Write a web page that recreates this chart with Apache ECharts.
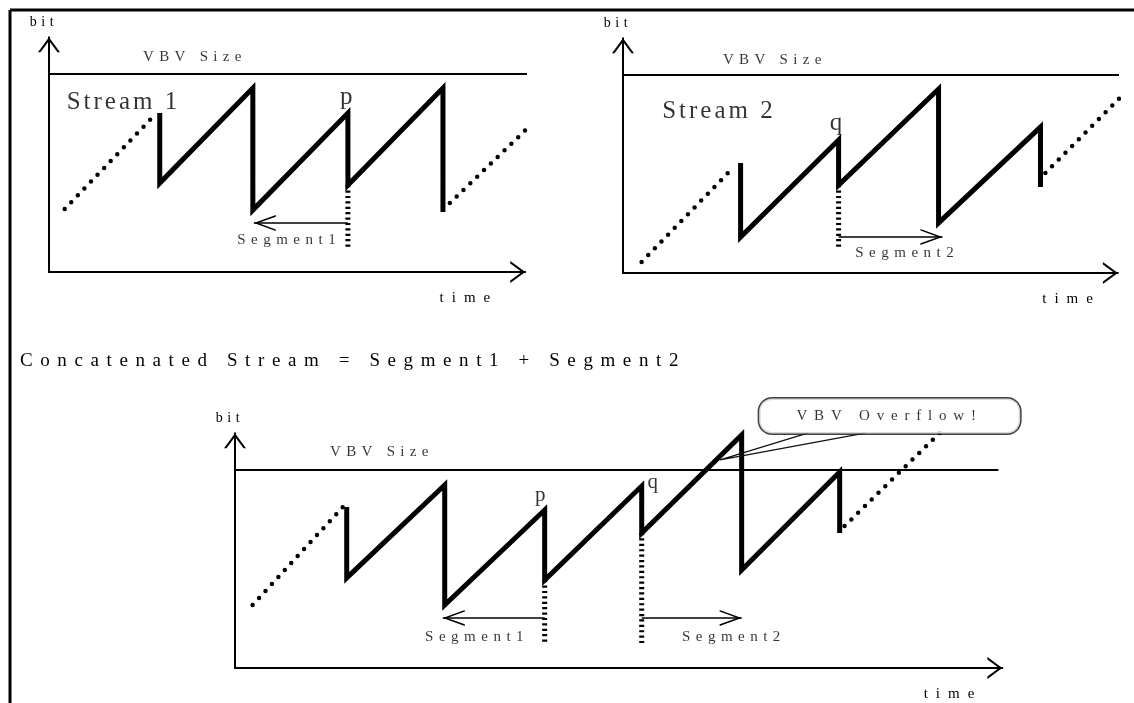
<!DOCTYPE html>
<html>
<head>
<meta charset="utf-8">
<title>VBV overflow after splicing</title>
<script src="https://cdn.jsdelivr.net/npm/echarts@6/dist/echarts.min.js"></script>
<style>
  html, body { margin: 0; padding: 0; background: #fff; }
  #vbvChart { width: 1134px; height: 703px; }
</style>
</head>
<body>
<div id="vbvChart"></div>
<script>
// buffer fullness (bit) against time. VBV size = 100
var vbvSize = 100;

// Stream 1 (top left)
var s1Lead = [[1.6, 31.8], [10.6, 78.3]];
var s1Saw = [[11.3, 80.3], [11.3, 44.9], [20.8, 92.9], [20.8, 31.3], [30.5, 80.3], [30.5, 43.9], [40.2, 92.9], [40.2, 30.3]];
var s1Tail = [[40.9, 34.8], [49.8, 77.3]];
var s1Cut = [[30.5, 43.9], [30.5, 12.6]];
var s1Segment = [[30.5, 24.7], [20.9, 24.7]];

// Stream 2 (top right)
var s2Lead = [[1.9, 5.6], [11.2, 53.0]];
var s2Saw = [[12.0, 55.6], [12.0, 18.2], [22.0, 67.2], [22.0, 44.4], [32.2, 92.9], [32.2, 25.3], [42.6, 73.7], [42.6, 43.4]];
var s2Tail = [[43.1, 50.5], [51.7, 93.4]];
var s2Cut = [[22.0, 44.4], [22.0, 12.6]];
var s2Segment = [[22.0, 18.2], [32.6, 18.2]];

// concatenated stream (bottom)
var cLead = [[1.8, 31.8], [11.0, 81.3]];
var cSaw = [[11.4, 81.3], [11.4, 45.5], [21.4, 92.4], [21.4, 31.8], [31.6, 79.8], [31.6, 44.4], [41.5, 91.9], [41.5, 68.2], [51.7, 117.7], [51.7, 49.5], [61.7, 99.0], [61.7, 68.2]];
var cTail = [[62.2, 71.7], [71.9, 118.7]];
var cCut1 = [[31.6, 44.4], [31.6, 12.6]];
var cCut2 = [[41.5, 68.2], [41.5, 12.6]];
var cSegment1 = [[31.6, 25.3], [21.2, 25.3]];
var cSegment2 = [[41.5, 25.3], [51.7, 25.3]];
var overflowPointer = [[58.5, 118.7], [49.5, 105.1], [64.4, 118.7]];

// time axis length and VBV line end for each panel
var timeMax = [48.6, 50.5, 78.3];
var vbvEnd = [50.3, 52.1, 77.9];

// annotations [time, bit, text]
var s1Notes = [[9.6, 108.6, 'VBV Size'], [19.2, 16.2, 'Segment1']];
var s1Names = [[1.8, 85.4, 'Stream 1'], [29.7, 88.4, 'p']];
var s2Notes = [[10.2, 107.6, 'VBV Size'], [23.7, 10.1, 'Segment2']];
var s2Names = [[4.0, 81.8, 'Stream 2'], [21.1, 75.3, 'q']];
var cNotes = [[9.7, 109.1, 'VBV Size'], [19.4, 15.7, 'Segment1'], [45.6, 15.7, 'Segment2']];
var cNames = [[30.6, 86.9, 'p'], [42.1, 93.9, 'q']];
var overflowText = [[66.8, 127.3, 'VBV Overflow!']];

var titleText = 'Concatenated Stream = Segment1 + Segment2';

// the scanned figure is typeset with very loose letter spacing
var letterGaps = {
    'bit': 4.5, 'time': 8, 'VBV Size': 5.3, 'Stream 1': 3, 'Stream 2': 3,
    'Segment1': 5.5, 'Segment2': 5.5, 'VBV Overflow!': 6.8
};
letterGaps[titleText] = 7.6;
var baseFillText = CanvasRenderingContext2D.prototype.fillText;
CanvasRenderingContext2D.prototype.fillText = function(txt, x, y, w) {
    this.letterSpacing = (letterGaps[txt] || 0) + 'px';
    return w === undefined ? baseFillText.call(this, txt, x, y) : baseFillText.call(this, txt, x, y, w);
};

var SERIF = 'Liberation Serif';
var SX = 9.8, SY = 1.98, BIT_MAX = 118.5;
var origins = [[49, 272], [623, 273], [235, 668]];

// open arrow heads, tip sits in the middle of the symbol box
var axisArrow = 'path://M11,0L11,0.01M0,30L11,15L22,30L19.5,30L11,18.4L2.5,30Z';
var segArrow = 'path://M8,0L8,0.01M0,44L8,22L16,44L14.4,44L8,26.4L1.6,44Z';

var grids = [], xAxes = [], yAxes = [];
var nameGaps = [-27, -17, -20];
origins.forEach(function(o, i) {
    grids.push({
        left: o[0], top: o[1] - BIT_MAX * SY,
        width: timeMax[i] * SX, height: BIT_MAX * SY,
        outerBoundsMode: 'none', containLabel: false
    });
    xAxes.push({
        type: 'value', gridIndex: i, min: 0, max: timeMax[i],
        name: 'time', nameLocation: 'end', nameGap: nameGaps[i],
        nameTextStyle: { fontFamily: SERIF, fontSize: 15, color: '#000', align: 'right', verticalAlign: 'top', padding: [19, 0, 0, 0] },
        axisLine: { show: true, onZero: false, symbol: ['none', axisArrow], symbolSize: [22, 30], lineStyle: { color: '#000', width: 2 } },
        axisTick: { show: false }, axisLabel: { show: false }, splitLine: { show: false }
    });
    yAxes.push({
        type: 'value', gridIndex: i, min: 0, max: BIT_MAX,
        name: 'bit', nameLocation: 'end', nameGap: 8,
        nameTextStyle: { fontFamily: SERIF, fontSize: 14, color: '#000', padding: [0, 10, 0, 0] },
        axisLine: { show: true, onZero: false, symbol: ['none', axisArrow], symbolSize: [22, 30], lineStyle: { color: '#000', width: 2 } },
        axisTick: { show: false }, axisLabel: { show: false }, splitLine: { show: false }
    });
});

function vbvLine(i) {
    return { type: 'line', xAxisIndex: i, yAxisIndex: i, data: [[0, vbvSize], [vbvEnd[i], vbvSize]],
        symbol: 'none', clip: false, silent: true, lineStyle: { color: '#000', width: 2 }, z: 2 };
}
function sawLine(i, data) {
    return { type: 'line', xAxisIndex: i, yAxisIndex: i, data: data, symbol: 'none', clip: false, silent: true,
        lineStyle: { color: '#000', width: 5, join: 'miter', cap: 'butt' }, z: 3 };
}
function dotLine(i, data) {
    return { type: 'line', xAxisIndex: i, yAxisIndex: i, data: data, symbol: 'none', clip: false, silent: true,
        lineStyle: { color: '#000', width: 4.5, type: [0, 9.5], cap: 'round' }, z: 3 };
}
function cutLine(i, data, segs) {
    return { type: 'line', xAxisIndex: i, yAxisIndex: i, data: data, symbol: 'none', clip: false, silent: true,
        lineStyle: { color: '#000', width: 5, type: [2.2, 3.2], cap: 'butt' }, z: 3,
        markLine: {
            silent: true, symbol: ['none', segArrow], symbolSize: [16, 44], label: { show: false },
            lineStyle: { color: '#000', width: 1.5, type: 'solid' },
            data: segs.map(function(s) { return [{ coord: s[0] }, { coord: s[1] }]; })
        } };
}
function notes(i, data, size) {
    return { type: 'scatter', xAxisIndex: i, yAxisIndex: i, symbolSize: 1, silent: true, clip: false, z: 5,
        itemStyle: { color: 'rgba(0,0,0,0)' },
        label: { show: true, position: 'inside', align: 'left', verticalAlign: 'middle',
            fontFamily: SERIF, fontSize: size, color: '#000', formatter: function(p) { return p.name; } },
        data: data.map(function(d) { return { name: d[2], value: [d[0], d[1]] }; }) };
}

var series = [
    vbvLine(0), dotLine(0, s1Lead), sawLine(0, s1Saw), dotLine(0, s1Tail), cutLine(0, s1Cut, [s1Segment]),
    notes(0, s1Notes, 15), notes(0, s1Names, 25),
    vbvLine(1), dotLine(1, s2Lead), sawLine(1, s2Saw), dotLine(1, s2Tail), cutLine(1, s2Cut, [s2Segment]),
    notes(1, s2Notes, 15), notes(1, s2Names, 25),
    vbvLine(2), dotLine(2, cLead), sawLine(2, cSaw), dotLine(2, cTail),
    cutLine(2, cCut1, [cSegment1]), cutLine(2, cCut2, [cSegment2]),
    notes(2, cNotes, 15), notes(2, cNames, 21),
    { type: 'line', xAxisIndex: 2, yAxisIndex: 2, data: overflowPointer, symbol: 'none', clip: false, silent: true,
      lineStyle: { color: '#111', width: 1.3 }, z: 4 },
    { type: 'scatter', xAxisIndex: 2, yAxisIndex: 2, symbolSize: 1, silent: true, clip: false, z: 6,
      itemStyle: { color: 'rgba(0,0,0,0)' },
      label: { show: true, position: 'inside', align: 'center', verticalAlign: 'middle',
          fontFamily: SERIF, fontSize: 15, color: '#000', lineHeight: 15, width: 261, padding: [10, 0, 10, 0],
          backgroundColor: '#fff', borderColor: '#111', borderWidth: 1.5, borderRadius: 13,
          formatter: function(p) { return p.name; } },
      data: overflowText.map(function(d) { return { name: d[2], value: [d[0], d[1]] }; }) }
];

var vbvChart = echarts.init(document.getElementById('vbvChart'), null, { renderer: 'canvas' });
vbvChart.setOption({
    animation: false,
    backgroundColor: '#fff',
    title: {
        text: titleText, left: 20, top: 352, padding: 0,
        textStyle: { fontFamily: SERIF, fontSize: 19, fontWeight: 'normal', color: '#000' }
    },
    graphic: [
        { type: 'line', silent: true, shape: { x1: 10, y1: 10, x2: 10, y2: 703 }, style: { stroke: '#000', lineWidth: 3 } },
        { type: 'line', silent: true, shape: { x1: 10, y1: 10, x2: 1134, y2: 10 }, style: { stroke: '#000', lineWidth: 3 } }
    ],
    tooltip: { show: false },
    grid: grids,
    xAxis: xAxes,
    yAxis: yAxes,
    series: series
});
</script>
</body>
</html>
